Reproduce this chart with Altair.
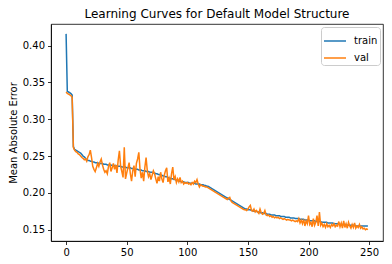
import altair as alt
import pandas as pd

train = [
    0.416, 0.338, 0.337, 0.336, 0.335, 0.333, 0.263, 0.259, 0.258, 0.257,
    0.256, 0.255, 0.254, 0.252, 0.250, 0.249, 0.247, 0.245, 0.244, 0.244,
    0.243, 0.243, 0.242, 0.242, 0.241, 0.241, 0.241, 0.240, 0.240, 0.240,
    0.240, 0.239, 0.239, 0.239, 0.238, 0.238, 0.238, 0.238, 0.237, 0.237,
    0.237, 0.237, 0.236, 0.236, 0.236, 0.236, 0.235, 0.235, 0.235, 0.235,
    0.234, 0.234, 0.234, 0.234, 0.233, 0.233, 0.233, 0.232, 0.232, 0.232,
    0.231, 0.231, 0.231, 0.230, 0.230, 0.230, 0.229, 0.229, 0.229, 0.228,
    0.228, 0.228, 0.227, 0.227, 0.226, 0.226, 0.225, 0.225, 0.224, 0.224,
    0.223, 0.223, 0.222, 0.222, 0.221, 0.220, 0.220, 0.219, 0.219, 0.218,
    0.218, 0.217, 0.217, 0.216, 0.216, 0.215, 0.215, 0.215, 0.214, 0.214,
    0.214, 0.214, 0.213, 0.213, 0.213, 0.213, 0.213, 0.212, 0.212, 0.212,
    0.212, 0.211, 0.211, 0.211, 0.210, 0.210, 0.209, 0.209, 0.208, 0.207,
    0.206, 0.205, 0.204, 0.203, 0.202, 0.201, 0.200, 0.199, 0.198, 0.197,
    0.196, 0.195, 0.194, 0.193, 0.192, 0.191, 0.190, 0.189, 0.188, 0.187,
    0.186, 0.185, 0.184, 0.183, 0.182, 0.181, 0.180, 0.179, 0.178, 0.178,
    0.177, 0.177, 0.177, 0.176, 0.176, 0.175, 0.175, 0.175, 0.174, 0.174,
    0.173, 0.173, 0.173, 0.172, 0.172, 0.172, 0.171, 0.171, 0.171, 0.170,
    0.170, 0.170, 0.170, 0.169, 0.169, 0.169, 0.169, 0.168, 0.168, 0.168,
    0.168, 0.167, 0.167, 0.167, 0.167, 0.166, 0.166, 0.166, 0.166, 0.165,
    0.165, 0.165, 0.165, 0.164, 0.164, 0.164, 0.164, 0.163, 0.163, 0.163,
    0.163, 0.162, 0.162, 0.162, 0.162, 0.162, 0.161, 0.161, 0.161, 0.161,
    0.161, 0.160, 0.160, 0.160, 0.160, 0.160, 0.159, 0.159, 0.159, 0.159,
    0.159, 0.158, 0.158, 0.158, 0.158, 0.158, 0.157, 0.157, 0.157, 0.157,
    0.157, 0.157, 0.156, 0.156, 0.156, 0.156, 0.156, 0.156, 0.156, 0.155,
    0.155, 0.155, 0.155, 0.155, 0.155, 0.155, 0.155, 0.155, 0.155, 0.155,
]

val = [
    0.337, 0.335, 0.334, 0.333, 0.332, 0.330, 0.262, 0.258, 0.256, 0.255,
    0.253, 0.252, 0.250, 0.248, 0.247, 0.245, 0.246, 0.243, 0.249, 0.252,
    0.258, 0.248, 0.236, 0.232, 0.229, 0.234, 0.240, 0.236, 0.242, 0.246,
    0.238, 0.232, 0.228, 0.230, 0.226, 0.236, 0.241, 0.229, 0.234, 0.240,
    0.232, 0.238, 0.227, 0.245, 0.257, 0.236, 0.229, 0.221, 0.262, 0.219,
    0.227, 0.234, 0.241, 0.226, 0.216, 0.230, 0.237, 0.222, 0.240, 0.246,
    0.255, 0.232, 0.220, 0.228, 0.216, 0.235, 0.248, 0.230, 0.222, 0.226,
    0.218, 0.224, 0.230, 0.226, 0.219, 0.213, 0.222, 0.216, 0.228, 0.219,
    0.214, 0.224, 0.230, 0.234, 0.215, 0.220, 0.212, 0.226, 0.235, 0.218,
    0.222, 0.214, 0.219, 0.215, 0.221, 0.214, 0.216, 0.212, 0.214, 0.213,
    0.214, 0.212, 0.213, 0.211, 0.214, 0.212, 0.216, 0.214, 0.218, 0.212,
    0.208, 0.211, 0.210, 0.209, 0.209, 0.208, 0.208, 0.207, 0.206, 0.205,
    0.204, 0.203, 0.202, 0.201, 0.200, 0.199, 0.198, 0.197, 0.196, 0.195,
    0.194, 0.193, 0.192, 0.191, 0.193, 0.194, 0.189, 0.187, 0.186, 0.185,
    0.184, 0.183, 0.182, 0.181, 0.180, 0.179, 0.178, 0.177, 0.177, 0.176,
    0.178, 0.181, 0.183, 0.176, 0.175, 0.178, 0.174, 0.176, 0.174, 0.172,
    0.178, 0.173, 0.171, 0.172, 0.176, 0.170, 0.169, 0.170, 0.168, 0.169,
    0.167, 0.168, 0.166, 0.167, 0.166, 0.167, 0.165, 0.166, 0.165, 0.164,
    0.165, 0.164, 0.163, 0.164, 0.163, 0.163, 0.162, 0.163, 0.162, 0.161,
    0.162, 0.161, 0.165, 0.159, 0.163, 0.158, 0.164, 0.155, 0.162, 0.158,
    0.169, 0.157, 0.160, 0.154, 0.165, 0.156, 0.160, 0.169, 0.155, 0.174,
    0.156, 0.159, 0.154, 0.157, 0.153, 0.158, 0.154, 0.156, 0.153, 0.157,
    0.155, 0.158, 0.154, 0.156, 0.155, 0.161, 0.154, 0.159, 0.152, 0.162,
    0.153, 0.158, 0.152, 0.160, 0.155, 0.152, 0.157, 0.153, 0.159, 0.152,
    0.155, 0.153, 0.157, 0.152, 0.154, 0.151, 0.152, 0.150, 0.151, 0.150,
]

series_names = ["train", "val"]
series_colors = ["#1f77b4", "#ff7f0e"]
x_ticks = [0, 50, 100, 150, 200, 250]
y_ticks = [0.15, 0.20, 0.25, 0.30, 0.35, 0.40]

rows = []
for i, v in enumerate(train):
    rows.append({"epoch": i, "mae": v, "series": "train", "order": 0})
for i, v in enumerate(val):
    rows.append({"epoch": i, "mae": v, "series": "val", "order": 1})
df = pd.DataFrame(rows)

font = "DejaVu Sans"

chart = alt.Chart(df).mark_line(strokeWidth=1.5).encode(
    x=alt.X("epoch:Q",
            scale=alt.Scale(domain=[-12.45, 261.45], nice=False, zero=False),
            axis=alt.Axis(values=x_ticks, format="d", title=None, grid=False,
                          tickSize=3.5, labelPadding=3, tickColor="black",
                          domainColor="black", labelColor="black",
                          labelFontSize=10, labelFont=font)),
    y=alt.Y("mae:Q",
            scale=alt.Scale(domain=[0.1346, 0.4294], nice=False, zero=False),
            axis=alt.Axis(values=y_ticks, format=".2f", title="Mean Absolute Error",
                          grid=False, tickSize=3.5, labelPadding=3,
                          tickColor="black", domainColor="black",
                          labelColor="black", labelFontSize=10, labelFont=font,
                          titleFont=font, titleFontSize=10, titleFontWeight="normal",
                          titleColor="black", titlePadding=4)),
    color=alt.Color("series:N",
                    scale=alt.Scale(domain=series_names, range=series_colors),
                    legend=alt.Legend(title=None, orient="none", legendX=270, legendY=3,
                                      symbolType="stroke", symbolSize=484,
                                      symbolStrokeWidth=1.5, labelFontSize=10,
                                      labelFont=font, labelColor="black",
                                      labelOffset=7, rowPadding=-8.7, padding=2,
                                      strokeColor="#cccccc",
                                      fillColor="white", cornerRadius=3)),
    order=alt.Order("order:Q"),
).properties(
    width=332,
    height=217,
    title=alt.TitleParams("Learning Curves for Default Model Structure",
                          font=font, fontSize=12, fontWeight="normal",
                          color="black", offset=3),
    padding={"left": 0, "top": 0, "right": 1, "bottom": 0},
    autosize=alt.AutoSizeParams(type="pad"),
).configure_view(
    stroke="black", strokeWidth=0.8
).configure_axis(
    domainWidth=0.8, tickWidth=0.8
).configure_legend(
    strokeWidth=1
)

chart.save("out.html", embed_options={"renderer": "svg", "actions": False})
